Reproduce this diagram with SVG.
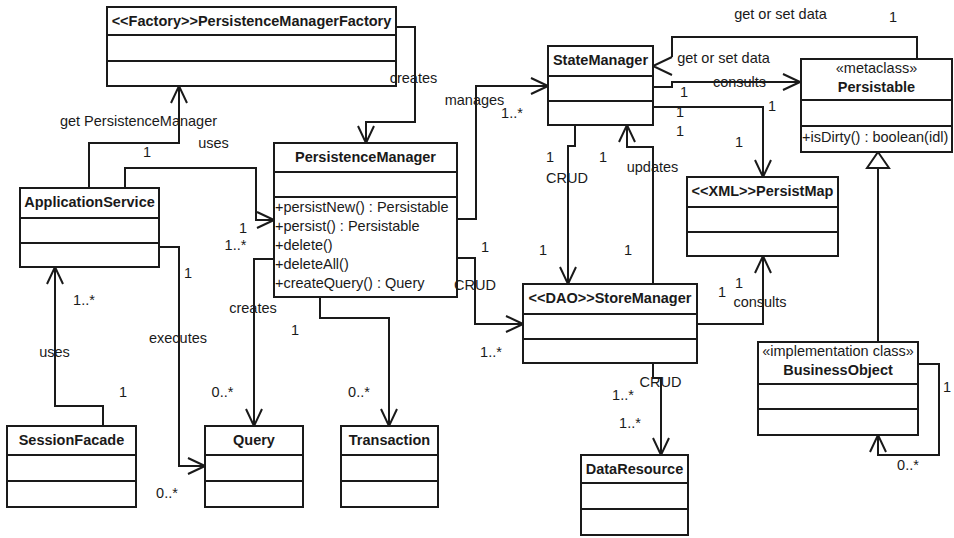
<svg xmlns="http://www.w3.org/2000/svg" width="954" height="538" viewBox="0 0 954 538">
  <style>
    text { font-family: "Liberation Sans", Arial, sans-serif; font-size: 14.5px; fill: #1a1a1a; }
    .title { font-weight: bold; text-anchor: middle; }
    .mid { text-anchor: middle; }
    .box { fill: #ffffff; stroke: #1a1a1a; stroke-width: 2; }
    .div { stroke: #1a1a1a; stroke-width: 2; }
    .edge { fill: none; stroke: #1a1a1a; stroke-width: 2; }
    .arr { marker-end: url(#open); }
  </style>
  <defs>
    <marker id="open" viewBox="-19 -10 21 20" refX="0" refY="0" markerWidth="21" markerHeight="20" markerUnits="userSpaceOnUse" orient="auto">
      <path d="M-17,-8 L0,0 L-17,8" fill="none" stroke="#1a1a1a" stroke-width="2"/>
    </marker>
  </defs>
  <rect width="954" height="538" fill="#ffffff"/>

  <!-- connectors -->
  <g id="connectors">
    <path class="edge arr" d="M396,27 H415 V122 H366 V143"/>
    <path class="edge arr" d="M89,188 V143 H179 V86"/>
    <path class="edge arr" d="M125,188 V168 H256 V220 H274"/>
    <path class="edge arr" d="M457,219 H476 V86 H548"/>
    <path class="edge arr" d="M457,258 H475 V324 H523"/>
    <path class="edge arr" d="M274,259 H254 V426"/>
    <path class="edge arr" d="M320,297 V318 H389 V426"/>
    <path class="edge arr" d="M159,247 H179 V466 H205"/>
    <path class="edge arr" d="M103,426 V406 H55 V267"/>
    <path class="edge arr" d="M575,125 V146 H568 V284"/>
    <path class="edge arr" d="M653,284 V147 H627 V125"/>
    <path class="edge" d="M917,59 V37 H672 V57"/>
    <path class="edge" d="M672,57 L653,66 L672,75"/>
    <path class="edge arr" d="M653,87 H672 V82 H800"/>
    <path class="edge arr" d="M653,107 H763 V177"/>
    <path class="edge arr" d="M697,324 H763 V256"/>
    <path class="edge arr" d="M653,363 V378 H661 V455"/>
    <!-- generalization BusinessObject -> Persistable -->
    <path class="edge" d="M878,342 V168"/>
    <path d="M878,152 L889,168 L867,168 Z" fill="#ffffff" stroke="#1a1a1a" stroke-width="2"/>
    <path class="edge arr" d="M918,364 H939 V455 H878 V435"/>
  </g>

  <!-- classes -->
  <g id="PersistenceManagerFactory">
    <rect class="box" x="107" y="7" width="289" height="79"/>
    <line class="div" x1="107" y1="35" x2="396" y2="35"/>
    <line class="div" x1="107" y1="61" x2="396" y2="61"/>
    <text class="title" x="251.5" y="26">&lt;&lt;Factory&gt;&gt;PersistenceManagerFactory</text>
  </g>

  <g id="PersistenceManager">
    <rect class="box" x="274" y="143" width="183" height="154"/>
    <line class="div" x1="274" y1="172" x2="457" y2="172"/>
    <line class="div" x1="274" y1="197" x2="457" y2="197"/>
    <text class="title" x="365.5" y="162">PersistenceManager</text>
    <text x="275" y="212">+persistNew() : Persistable</text>
    <text x="275" y="231">+persist() : Persistable</text>
    <text x="275" y="250">+delete()</text>
    <text x="275" y="269">+deleteAll()</text>
    <text x="275" y="287.5">+createQuery() : Query</text>
  </g>

  <g id="ApplicationService">
    <rect class="box" x="20" y="188" width="139" height="79"/>
    <line class="div" x1="20" y1="218" x2="159" y2="218"/>
    <line class="div" x1="20" y1="243" x2="159" y2="243"/>
    <text class="title" x="89.5" y="207">ApplicationService</text>
  </g>

  <g id="SessionFacade">
    <rect class="box" x="7" y="426" width="129" height="81"/>
    <line class="div" x1="7" y1="455" x2="136" y2="455"/>
    <line class="div" x1="7" y1="481" x2="136" y2="481"/>
    <text class="title" x="71.5" y="445">SessionFacade</text>
  </g>

  <g id="Query">
    <rect class="box" x="205" y="426" width="98" height="81"/>
    <line class="div" x1="205" y1="455" x2="303" y2="455"/>
    <line class="div" x1="205" y1="481" x2="303" y2="481"/>
    <text class="title" x="254" y="445">Query</text>
  </g>

  <g id="Transaction">
    <rect class="box" x="341" y="426" width="97" height="81"/>
    <line class="div" x1="341" y1="455" x2="438" y2="455"/>
    <line class="div" x1="341" y1="481" x2="438" y2="481"/>
    <text class="title" x="389.5" y="445">Transaction</text>
  </g>

  <g id="StateManager">
    <rect class="box" x="548" y="46" width="105" height="79"/>
    <line class="div" x1="548" y1="76" x2="653" y2="76"/>
    <line class="div" x1="548" y1="101" x2="653" y2="101"/>
    <text class="title" x="600.5" y="65">StateManager</text>
  </g>

  <g id="StoreManager">
    <rect class="box" x="523" y="284" width="174" height="79"/>
    <line class="div" x1="523" y1="314" x2="697" y2="314"/>
    <line class="div" x1="523" y1="339" x2="697" y2="339"/>
    <text class="title" x="610" y="303">&lt;&lt;DAO&gt;&gt;StoreManager</text>
  </g>

  <g id="DataResource">
    <rect class="box" x="581" y="455" width="107" height="80"/>
    <line class="div" x1="581" y1="483" x2="688" y2="483"/>
    <line class="div" x1="581" y1="509" x2="688" y2="509"/>
    <text class="title" x="634.5" y="474">DataResource</text>
  </g>

  <g id="PersistMap">
    <rect class="box" x="687" y="177" width="151" height="79"/>
    <line class="div" x1="687" y1="207" x2="838" y2="207"/>
    <line class="div" x1="687" y1="232" x2="838" y2="232"/>
    <text class="title" x="762.5" y="196">&lt;&lt;XML&gt;&gt;PersistMap</text>
  </g>

  <g id="Persistable">
    <rect class="box" x="801" y="59" width="151" height="93"/>
    <line class="div" x1="801" y1="100" x2="952" y2="100"/>
    <line class="div" x1="801" y1="126" x2="952" y2="126"/>
    <text class="mid" x="876.5" y="73">«metaclass»</text>
    <text class="title" x="876.5" y="92">Persistable</text>
    <text x="802" y="142">+isDirty() : boolean(idl)</text>
  </g>

  <g id="BusinessObject">
    <rect class="box" x="758" y="342" width="160" height="93"/>
    <line class="div" x1="758" y1="384" x2="918" y2="384"/>
    <line class="div" x1="758" y1="409" x2="918" y2="409"/>
    <text class="mid" x="838" y="356">«implementation class»</text>
    <text class="title" x="838" y="375">BusinessObject</text>
  </g>

  <!-- association names and multiplicities, drawn above the classes -->
  <g id="connector-labels">
    <text class="mid" x="138.5" y="126">get PersistenceManager</text>
    <text class="mid" x="213.5" y="148">uses</text>
    <text class="mid" x="147" y="157">1</text>
    <text class="mid" x="413.5" y="83">creates</text>
    <text class="mid" x="474.5" y="105">manages</text>
    <text class="mid" x="512" y="118">1..*</text>
    <text class="mid" x="243" y="233">1</text>
    <text class="mid" x="235.5" y="250">1..*</text>
    <text class="mid" x="188" y="278">1</text>
    <text class="mid" x="84" y="305">1..*</text>
    <text class="mid" x="54.5" y="357">uses</text>
    <text class="mid" x="178" y="343">executes</text>
    <text class="mid" x="123" y="397">1</text>
    <text class="mid" x="167" y="498">0..*</text>
    <text class="mid" x="253" y="313">creates</text>
    <text class="mid" x="295" y="335">1</text>
    <text class="mid" x="222.5" y="397">0..*</text>
    <text class="mid" x="359" y="397">0..*</text>
    <text class="mid" x="475" y="290">CRUD</text>
    <text class="mid" x="485" y="252">1</text>
    <text class="mid" x="491" y="357">1..*</text>
    <text class="mid" x="550" y="162">1</text>
    <text class="mid" x="567" y="183">CRUD</text>
    <text class="mid" x="543" y="255">1</text>
    <text class="mid" x="603" y="162">1</text>
    <text class="mid" x="652.5" y="172">updates</text>
    <text class="mid" x="628" y="255">1</text>
    <text class="mid" x="780.5" y="19">get or set data</text>
    <text class="mid" x="893" y="22">1</text>
    <text class="mid" x="723.5" y="63">get or set data</text>
    <text class="mid" x="739.5" y="87">consults</text>
    <text class="mid" x="684" y="97">1</text>
    <text class="mid" x="680" y="117">1</text>
    <text class="mid" x="680" y="136">1</text>
    <text class="mid" x="772" y="111">1</text>
    <text class="mid" x="739" y="147">1</text>
    <text class="mid" x="722" y="297">1</text>
    <text class="mid" x="739" y="288">1</text>
    <text class="mid" x="760" y="307">consults</text>
    <text class="mid" x="660.5" y="387">CRUD</text>
    <text class="mid" x="623" y="400">1..*</text>
    <text class="mid" x="630" y="428">1..*</text>
    <text class="mid" x="947" y="392">1</text>
    <text class="mid" x="908" y="470">0..*</text>
  </g>
</svg>
